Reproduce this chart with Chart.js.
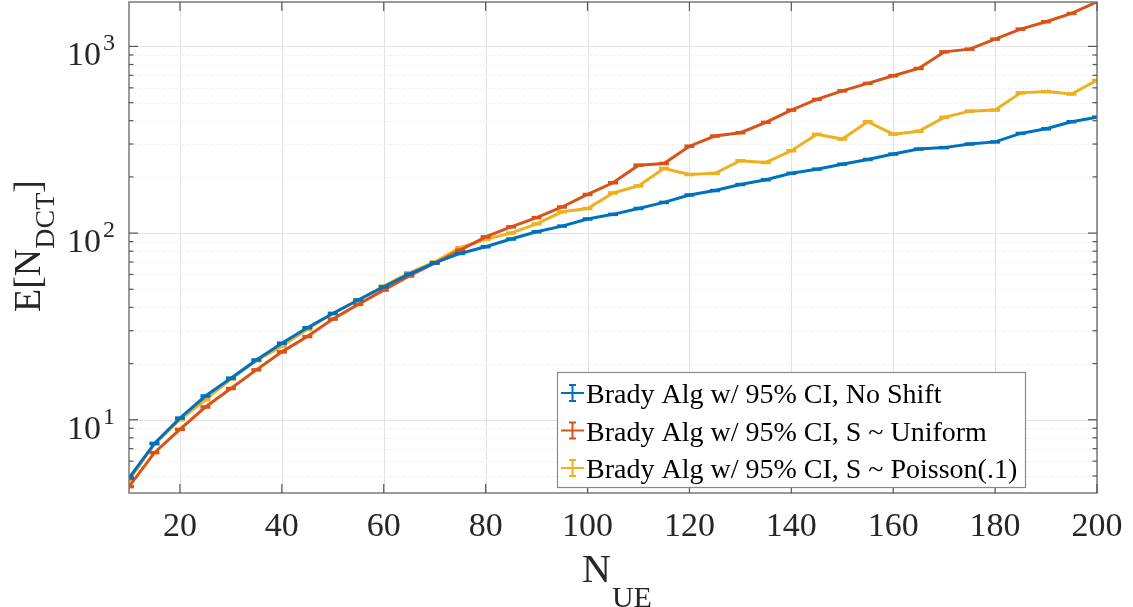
<!DOCTYPE html>
<html>
<head>
<meta charset="utf-8">
<script src="https://cdn.jsdelivr.net/npm/chart.js@4.4.1/dist/chart.umd.min.js"></script>
<style>
  body { margin: 0; background: #fff; }
  #grafico { display: block; }
</style>
</head>
<body>
<canvas id="grafico" width="1133" height="607"></canvas>
<script>
// Datos
const nUE = [10, 15, 20, 25, 30, 35, 40, 45, 50, 55, 60, 65, 70, 75, 80, 85, 90, 95, 100,
             105, 110, 115, 120, 125, 130, 135, 140, 145, 150, 155, 160, 165, 170, 175, 180,
             185, 190, 195, 200];

const sinShift = [4.87, 7.47, 10.2, 13.4, 16.7, 20.9, 25.7, 31.1, 37.1, 43.8, 51.6, 60.3,
                  69.3, 77.8, 84.5, 92.9, 101.6, 109, 119, 126, 135.5, 146, 160, 169, 182,
                  193, 209, 220, 234, 248, 265, 282, 287, 300, 308, 342, 362, 395, 418];

const uniforme = [4.38, 6.66, 8.88, 11.7, 14.7, 18.5, 23.1, 27.9, 34.6, 41.5, 49.5, 58.9,
                  68.9, 81, 95.5, 108, 121, 138, 161, 186, 231, 236, 292, 331, 345, 392,
                  456, 520, 578, 634, 696, 762, 935, 967, 1094, 1238, 1356, 1502, 1733];

const poisson = [4.75, 7.4, 10.0, 12.8, 16.5, 20.7, 24.8, 30.5, 37.1, 43.8, 52, 61.3, 70,
                 83.5, 92.5, 100, 112, 130, 135.5, 164, 179, 222, 206, 209, 244, 239, 276,
                 338, 319, 395, 339, 351, 417, 450, 456, 564, 573, 556, 658];

const etiquetas = ['Brady Alg w/ 95% CI, No Shift',
                   'Brady Alg w/ 95% CI, S ~ Uniform',
                   'Brady Alg w/ 95% CI, S ~ Poisson(.1)'];
const colores = ['#0072BD', '#D95319', '#EDB120'];

const ticksX = [20, 40, 60, 80, 100, 120, 140, 160, 180, 200];
const decadas = [1, 2, 3];          // exponentes de las marcas mayores
const menores = [2, 3, 4, 5, 6, 7, 8, 9];

const fuente = '"Liberation Serif", "DejaVu Serif", serif';

function serie(valores, i) {
    return {
        label: etiquetas[i],
        data: nUE.map((x, k) => ({ x: x, y: valores[k] })),
        borderColor: colores[i],
        backgroundColor: colores[i],
        borderWidth: 3,
        pointStyle: 'line',
        pointRadius: 5,
        pointBorderWidth: 3.5,
        pointHoverRadius: 5,
        tension: 0
    };
}

// Plugin para ejes estilo MATLAB (rejilla, caja, marcas y textos)
const ejesMatlab = {
    id: 'ejesMatlab',
    beforeDatasetsDraw(chart) {
        const { ctx, chartArea: a, scales: { x, y } } = chart;
        ctx.save();
        ctx.lineWidth = 1;
        // rejilla menor punteada
        ctx.strokeStyle = '#e3e3e3';
        ctx.setLineDash([1, 2]);
        decadas.concat([0]).forEach(d => {
            menores.forEach(m => {
                const v = m * Math.pow(10, d);
                if (v < y.min || v > y.max) return;
                const py = Math.round(y.getPixelForValue(v)) + 0.5;
                ctx.beginPath(); ctx.moveTo(a.left, py); ctx.lineTo(a.right, py); ctx.stroke();
            });
        });
        // rejilla mayor
        ctx.setLineDash([]);
        ctx.strokeStyle = '#e2e2e2';
        decadas.forEach(d => {
            const py = Math.round(y.getPixelForValue(Math.pow(10, d))) + 0.5;
            ctx.beginPath(); ctx.moveTo(a.left, py); ctx.lineTo(a.right, py); ctx.stroke();
        });
        ticksX.forEach(t => {
            const px = Math.round(x.getPixelForValue(t)) + 0.5;
            ctx.beginPath(); ctx.moveTo(px, a.top); ctx.lineTo(px, a.bottom); ctx.stroke();
        });
        ctx.restore();
    },
    afterDatasetsDraw(chart) {
        const { ctx, chartArea: a, scales: { x, y } } = chart;
        ctx.save();
        ctx.strokeStyle = '#7a7a7a';
        ctx.lineWidth = 1.5;
        ctx.strokeRect(a.left, a.top, a.right - a.left, a.bottom - a.top);

        // marcas en x (abajo y arriba)
        ctx.lineWidth = 1.2;
        ctx.strokeStyle = '#555';
        ticksX.forEach(t => {
            const px = x.getPixelForValue(t);
            ctx.beginPath(); ctx.moveTo(px, a.bottom); ctx.lineTo(px, a.bottom - 9); ctx.stroke();
            ctx.beginPath(); ctx.moveTo(px, a.top); ctx.lineTo(px, a.top + 9); ctx.stroke();
        });
        // marcas en y
        decadas.forEach(d => {
            const py = y.getPixelForValue(Math.pow(10, d));
            ctx.beginPath(); ctx.moveTo(a.left, py); ctx.lineTo(a.left + 9, py); ctx.stroke();
            ctx.beginPath(); ctx.moveTo(a.right, py); ctx.lineTo(a.right - 9, py); ctx.stroke();
        });
        decadas.concat([0]).forEach(d => {
            menores.forEach(m => {
                const v = m * Math.pow(10, d);
                if (v < y.min || v > y.max) return;
                const py = y.getPixelForValue(v);
                ctx.beginPath(); ctx.moveTo(a.left, py); ctx.lineTo(a.left + 4.5, py); ctx.stroke();
                ctx.beginPath(); ctx.moveTo(a.right, py); ctx.lineTo(a.right - 4.5, py); ctx.stroke();
            });
        });

        // etiquetas de x
        ctx.fillStyle = '#262626';
        ctx.font = '34px ' + fuente;
        ctx.textAlign = 'center';
        ctx.textBaseline = 'alphabetic';
        ticksX.forEach(t => {
            ctx.fillText(String(t), x.getPixelForValue(t), 536);
        });

        // etiquetas de y: 10^n
        decadas.forEach(d => {
            const py = y.getPixelForValue(Math.pow(10, d));
            ctx.font = '34px ' + fuente;
            ctx.textAlign = 'right';
            ctx.fillText('10', 101, py + 19);
            ctx.font = '24px ' + fuente;
            ctx.textAlign = 'left';
            ctx.fillText(String(d), 103, py + 4);
        });

        // titulo eje x: N_UE
        ctx.textAlign = 'left';
        ctx.font = '40px ' + fuente;
        ctx.fillText('N', 582, 582);
        const anchoN = ctx.measureText('N').width;
        ctx.font = '30px ' + fuente;
        ctx.fillText('UE', 582 + anchoN + 1, 607);

        // titulo eje y: E[N_DCT]
        ctx.save();
        ctx.translate(40, 312);
        ctx.rotate(-Math.PI / 2);
        ctx.font = '38px ' + fuente;
        ctx.fillText('E[N', 0, 0);
        let pos = ctx.measureText('E[N').width;
        ctx.font = '28px ' + fuente;
        ctx.fillText('DCT', pos, 14);
        pos += ctx.measureText('DCT').width;
        ctx.font = '38px ' + fuente;
        ctx.fillText(']', pos, 0);
        ctx.restore();

        // leyenda
        const lx = 557, ly = 372, lw = 468, lh = 115;
        ctx.fillStyle = '#fff';
        ctx.fillRect(lx, ly, lw, lh);
        ctx.strokeStyle = '#8a8a8a';
        ctx.lineWidth = 1.2;
        ctx.strokeRect(lx + 0.5, ly + 0.5, lw, lh);
        chart.data.datasets.forEach((ds, i) => {
            const base = 403 + i * 37.5;
            const cy = base - 10;
            ctx.strokeStyle = ds.borderColor;
            ctx.lineWidth = 2;
            ctx.beginPath(); ctx.moveTo(561, cy); ctx.lineTo(584, cy); ctx.stroke();
            ctx.beginPath(); ctx.moveTo(572.5, cy - 8); ctx.lineTo(572.5, cy + 8); ctx.stroke();
            ctx.beginPath(); ctx.moveTo(569, cy - 8); ctx.lineTo(576, cy - 8); ctx.stroke();
            ctx.beginPath(); ctx.moveTo(569, cy + 8); ctx.lineTo(576, cy + 8); ctx.stroke();
            ctx.fillStyle = '#000';
            ctx.font = '28px ' + fuente;
            ctx.textAlign = 'left';
            ctx.fillText(ds.label, 586, base);
        });
        ctx.restore();
    }
};

const ctxGrafico = document.getElementById('grafico').getContext('2d');
const grafico = new Chart(ctxGrafico, {
    type: 'line',
    data: {
        datasets: [serie(sinShift, 0), serie(uniforme, 1), serie(poisson, 2)]
    },
    options: {
        responsive: false,
        animation: false,
        layout: { autoPadding: false, padding: { left: 129, top: 2, right: 36, bottom: 114 } },
        plugins: {
            legend: { display: false },
            tooltip: { enabled: false }
        },
        scales: {
            x: { type: 'linear', min: 10, max: 200, display: false },
            y: { type: 'logarithmic', min: 4.05, max: 1730, display: false }
        }
    },
    plugins: [ejesMatlab]
});
</script>
</body>
</html>
